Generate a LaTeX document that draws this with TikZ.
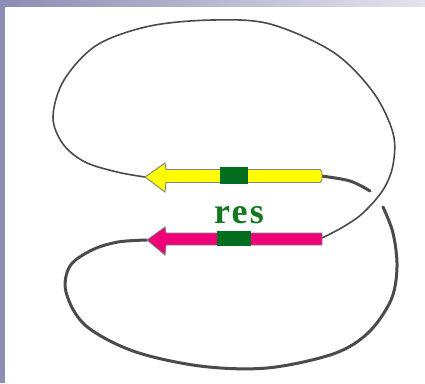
\documentclass[tikz,border=0pt]{standalone}
\usepackage{fontspec}
\setmainfont{Liberation Serif}
\definecolor{strip}{RGB}{140,140,180}
\definecolor{stripR}{RGB}{228,228,238}
\definecolor{wire}{RGB}{75,75,75}
\definecolor{yel}{RGB}{255,255,0}
\definecolor{pnk}{RGB}{240,0,120}
\definecolor{grn}{RGB}{0,110,30}
\definecolor{txtgrn}{RGB}{20,120,30}
\begin{document}
\begin{tikzpicture}[x=1pt,y=-1pt,
  thinwire/.style={draw=wire,line width=1.6pt,line cap=round},
  thickwire/.style={draw=wire,line width=3pt,line cap=round},
  arrowbody/.style={draw=wire!70,line width=0.9pt,line join=miter},
  site/.style={fill=grn,draw=none}]
\useasboundingbox (0,0) rectangle (425,383);
\fill[white] (0,0) rectangle (425,383);
\shade[left color=strip,right color=stripR] (0,0) rectangle (425,6);
\fill[strip] (0,0) rectangle (5,383);
% coordinates
\coordinate (ytip) at (145,177);
\coordinate (yend) at (321,176);
\coordinate (ptip) at (147,240);
\coordinate (pend) at (322,238);
\coordinate (gapA) at (370,191);
\coordinate (gapB) at (383,207);
% upper thin loop: yellow tip -> around -> pink end
\draw[thinwire] plot[smooth,tension=0.55] coordinates {
 (ytip) (117,172) (85,162) (63,144) (53,117) (64,80) (97,45) (150,26) (213,20)
 (270,24) (333,52) (373,92) (393,133) (393,165) (383,190) (363,213) (343,227) (pend)};
% lower thick loop
\draw[thickwire] plot[smooth,tension=0.6] coordinates {
 (yend) (350,181) (gapA)};
\draw[thickwire] plot[smooth,tension=0.55] coordinates {
 (gapB) (393,233) (397,267) (391,300) (368,333) (333,354) (267,368) (200,366)
 (133,351) (85,325) (66,292) (70,266) (92,250) (118,242) (ptip)};
% yellow arrow
\filldraw[arrowbody,fill=yel] (ytip) -- (165,163) -- (166,169.5) -- (320,169.5)
  -- (322,172) -- (322,180) -- (320,182.5) -- (166,182.5) -- (165,192) -- cycle;
\fill[site] (220,167) rectangle (248,184);
% pink arrow
\filldraw[arrowbody,fill=pnk] (ptip) -- (165,227) -- (166,233) -- (322,233)
  -- (322,245) -- (166,245) -- (165,255) -- cycle;
\fill[site] (217,231) rectangle (251,246);
% label
\node[text=txtgrn,font=\bfseries\fontsize{36}{36}\selectfont\addfontfeature{LetterSpace=6},inner sep=0pt] (res) at (239,215) {res};
\end{tikzpicture}
\end{document}
